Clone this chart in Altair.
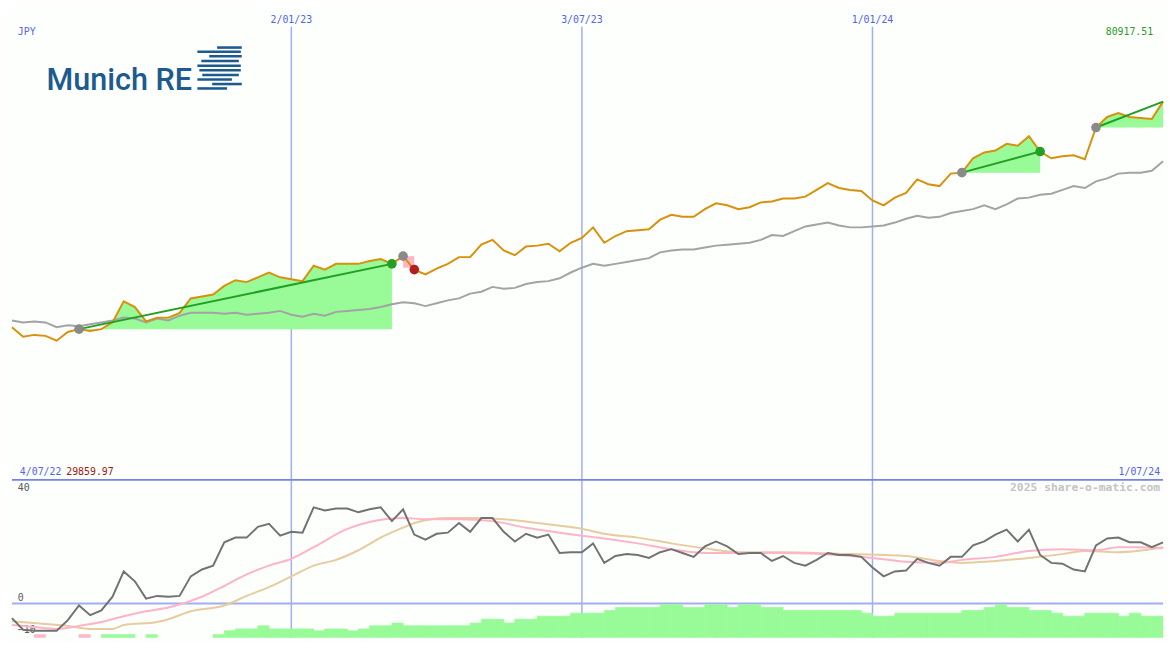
import altair as alt
import pandas as pd

# ---------------- data ----------------
START = "2022-07-11"          # first weekly point
currency = "JPY"
y_min_label = "29859.97"
y_max_label = "80917.51"
left_date_label = "4/07/22"
right_date_label = "1/07/24"
watermark = "2025 share-o-matic.com"
logo_text = "Munich RE"

grid_dates = ["2023-01-02", "2023-07-03", "2024-01-01"]
grid_labels = ["2/01/23", "3/07/23", "1/01/24"]

price = [46530, 45481, 45691, 45586, 45062, 46005, 46320, 46110, 46320, 47054,
         49360, 48731, 47159, 47578, 47578, 48102, 49675, 49884, 50094, 51038,
         51667, 51457, 51981, 52505, 51981, 51772, 51562, 53239, 52820, 53449,
         53449, 53449, 53764, 53973, 53449, 54288, 52820, 52296, 52925, 53449,
         54183, 54183, 55546, 56070, 54917, 54393, 55336, 55441, 55651, 54812,
         55755, 56280, 57433, 55755, 56489, 57014, 57118, 57223, 58272, 58796,
         58586, 58586, 59425, 60054, 59844, 59425, 59635, 60159, 60264, 60578,
         60578, 60788, 61522, 62256, 61731, 61522, 61417, 60368, 59844, 60683,
         61207, 62675, 62151, 61941, 63304, 63409, 64981, 65610, 65820, 66554,
         66344, 67393, 65715, 64981, 65191, 65296, 64877, 68336, 69490, 69909,
         69490, 69385, 69280, 71167]

relative = [47263, 47054, 47159, 47054, 46530, 46739, 46634, 46844, 47054, 47263,
            47578, 47473, 47054, 47473, 47263, 47788, 48102, 48102, 48102, 47997,
            48102, 47892, 47997, 48102, 48312, 47892, 47683, 47997, 47788, 48207,
            48312, 48417, 48522, 48731, 49046, 49255, 49151, 48836, 49151, 49465,
            49675, 50199, 50409, 50933, 50723, 50828, 51247, 51457, 51562, 51876,
            52505, 53030, 53449, 53239, 53449, 53659, 53868, 54078, 54707, 54917,
            55022, 55022, 55231, 55441, 55546, 55651, 55755, 56070, 56594, 56489,
            57014, 57538, 57747, 57957, 57643, 57433, 57433, 57538, 57643, 57957,
            58376, 58691, 58481, 58586, 59006, 59215, 59425, 59844, 59425, 59949,
            60578, 60683, 60997, 61102, 61522, 61941, 61731, 62465, 62780, 63304,
            63409, 63409, 63618, 64667]

osc = [-5.3, -9.5, -9.9, -9.9, -9.9, -6.0, -0.7, -4.2, -2.5, 2.5,
       11.7, 8.1, 1.8, 2.8, 2.5, 2.8, 9.9, 12.4, 13.8, 22.3,
       24.0, 24.0, 27.9, 29.0, 24.7, 26.1, 25.8, 35.0, 33.9, 34.6,
       34.6, 33.2, 34.3, 35.0, 30.0, 34.3, 25.1, 23.3, 25.4, 25.8,
       29.3, 26.1, 31.1, 31.1, 26.1, 22.6, 25.4, 24.0, 25.1, 18.4,
       18.7, 18.7, 21.9, 14.8, 17.3, 18.0, 17.7, 16.6, 18.7, 19.8,
       18.4, 17.0, 20.8, 22.6, 20.8, 18.0, 18.4, 18.4, 15.5, 17.3,
       14.8, 13.8, 15.9, 18.4, 17.7, 17.7, 17.0, 13.1, 9.9, 11.7,
       12.0, 16.3, 14.8, 13.8, 17.0, 17.0, 21.2, 22.6, 25.1, 26.9,
       22.6, 26.9, 17.7, 14.8, 14.5, 12.4, 11.7, 21.2, 23.7, 24.0,
       22.3, 22.3, 20.5, 22.3]

pink_k = [0, 2, 4, 6, 8, 10, 12, 14, 17, 19, 21, 23, 25, 27, 30, 32, 35, 37, 40, 43,
          46, 49, 51, 53, 56, 59, 62, 65, 69, 74, 77, 80, 83, 85, 88, 91, 94, 97, 99, 101, 103]
pink_v = [-7.8, -8.5, -9.2, -8.1, -6.7, -4.6, -2.8, -1.4, 2.5, 6.4, 10.6, 13.8, 16.3, 20.5,
          27.2, 29.7, 31.1, 30.7, 30.7, 30.0, 27.6, 25.8, 24.7, 23.7, 21.9, 19.8, 18.4, 18.4,
          18.4, 17.7, 16.6, 15.2, 14.8, 15.9, 17.0, 19.1, 19.8, 19.4, 20.5, 20.5, 20.1]

tan_k = [0, 3, 5, 7, 9, 10, 13, 14, 16, 19, 21, 23, 25, 27, 29, 31, 33, 35, 36, 39,
         41, 44, 47, 51, 53, 56, 59, 62, 65, 69, 75, 80, 83, 85, 88, 91, 94, 96, 99, 103]
tan_v = [-6.4, -7.4, -8.1, -9.2, -9.2, -7.8, -6.7, -5.7, -2.8, -0.7, 2.8, 6.0, 9.9, 13.8,
         15.9, 19.4, 24.0, 27.6, 29.3, 31.1, 31.1, 30.7, 29.3, 27.2, 25.4, 24.0, 21.9, 20.1,
         18.7, 18.7, 18.0, 17.3, 15.5, 14.8, 15.5, 16.6, 18.0, 19.1, 18.7, 20.5]

bar_vals = [None, None, -11.3, None, None, None, -11.3, None, -11.3, -11.3,
            -11.3, None, -11.3, None, None, None, None, None, -11.3, -9.9,
            -9.2, -9.2, -8.1, -9.2, -9.2, -9.2, -9.2, -9.9, -9.2, -9.2,
            -9.9, -9.2, -8.1, -8.1, -7.1, -8.1, -8.1, -8.1, -8.1, -8.1,
            -8.1, -7.1, -5.7, -5.7, -7.1, -5.7, -5.7, -4.6, -4.6, -4.6,
            -3.5, -3.5, -3.5, -2.5, -1.4, -1.4, -1.4, -1.4, -0.4, -0.4,
            -1.4, -1.4, -0.4, -0.4, -1.4, -0.4, -0.4, -1.4, -1.4, -2.5,
            -2.5, -2.5, -2.5, -2.5, -2.5, -2.5, -3.5, -4.6, -4.6, -3.5,
            -3.5, -3.5, -3.5, -3.5, -3.5, -2.5, -2.5, -1.4, -0.4, -1.4,
            -1.4, -2.5, -2.5, -3.5, -4.6, -4.6, -3.5, -3.5, -3.5, -4.6,
            -3.5, -4.6, -4.6, -4.6]
neg_bar_weeks = [2, 6]

trend_from = [6, 85, 97]
trend_to = [34, 92, 103]
marker_k = [6, 34, 35, 36, 85, 92, 97]
marker_kind = ["start", "hit", "start", "stop", "start", "hit", "start"]
stop_box_k = [35, 36]
stop_box_v = [54288, 53030]

osc_levels = [40, 0]
osc_low_level = [-10]

Y_TOP = [29859.97, 80917.51]
Y_BOT = [-12.4, 45.0]

# logo stripes (decorative, pixel geometry of the emblem)
logo_stripes = [(208, 233, 36.7), (188, 232, 41.0), (200, 233, 45.7), (192, 230, 50.7),
                (188, 232, 55.7), (190, 232, 60.3), (193, 230, 65.3), (188, 223, 70.0),
                (203, 233, 74.7), (188, 218, 79.3)]

# ---------------- layout / style ----------------
W, H1, H2 = 1167, 474, 160
SY = H1 / 487.0
MONO = "DejaVu Sans Mono"
BLUE_TXT = "#5563ec"
GRID = "#a3adf2"
SEP = "#7682ea"
BG = "#fcfffc"
MARKER_COLORS = {"start": "#8a8a8a", "hit": "#23a023", "stop": "#b41e1e"}
BAR_COLORS = {"pos": "#98fb98", "neg": "#ffb6c8"}

dates = pd.date_range(START, periods=len(price), freq="7D")
ds = list(dates.strftime("%Y-%m-%d"))
ds_next = list((dates + pd.Timedelta(days=7)).strftime("%Y-%m-%d"))

xs = alt.Scale(domain=[alt.DateTime(year=2022, month=7, date=11, utc=True),
                       alt.DateTime(year=2024, month=7, date=1, utc=True)])
ys_top = alt.Scale(domain=Y_TOP, zero=False, nice=False)
ys_bot = alt.Scale(domain=Y_BOT, zero=False, nice=False)

X = alt.X("date:T", scale=xs, axis=None)
ONE = pd.DataFrame({"a": [0]})

main = pd.DataFrame({"date": ds, "price": price, "rel": relative, "osc": osc})
grid = pd.DataFrame({"date": grid_dates, "label": grid_labels})

area_rows, trend_rows = [], []
for i, (a, b) in enumerate(zip(trend_from, trend_to)):
    for k in range(a, b + 1):
        area_rows.append({"date": ds[k], "price": price[k], "base": price[a], "seg": i})
    trend_rows.append({"date": ds[a], "price": price[a], "seg": i})
    trend_rows.append({"date": ds[b], "price": price[b], "seg": i})
areas = pd.DataFrame(area_rows)
trends = pd.DataFrame(trend_rows)
markers = pd.DataFrame({"date": [ds[k] for k in marker_k],
                        "price": [price[k] for k in marker_k],
                        "kind": marker_kind})
stopbox = pd.DataFrame({"date": [ds[stop_box_k[0]]], "date2": [ds[stop_box_k[1]]],
                        "top": [stop_box_v[0]], "bot": [stop_box_v[1]]})

bars = pd.DataFrame({"date": ds, "date2": ds_next, "val": bar_vals,
                     "kind": ["neg" if k in neg_bar_weeks else "pos" for k in range(len(ds))]})
bars = bars.dropna()
pink = pd.DataFrame({"date": [ds[k] for k in pink_k], "v": pink_v})
tan = pd.DataFrame({"date": [ds[k] for k in tan_k], "v": tan_v})


def txt(s, x, y, color, align="left", baseline="middle", size=10, weight="normal", font=MONO):
    return alt.Chart(ONE).mark_text(align=align, baseline=baseline, fontSize=size,
                                    fontWeight=weight, font=font, color=color).encode(
        x=alt.value(x), y=alt.value(y), text=alt.value(s))


# ---------------- top panel ----------------
grid_top = alt.Chart(grid).mark_rule(color=GRID, strokeWidth=1.5).encode(
    x=X, y=alt.value(15 * SY), y2=alt.value(H1))
grid_lbl = alt.Chart(grid).mark_text(font=MONO, fontSize=10, color=BLUE_TXT,
                                     baseline="middle").encode(
    x=X, y=alt.value(8 * SY), text="label:N")
area_l = alt.Chart(areas).mark_area(color="#98fb98", opacity=1).encode(
    x=X, y=alt.Y("price:Q", scale=ys_top, axis=None), y2="base:Q", detail="seg:N")
box_l = alt.Chart(stopbox).mark_rect(color="#ffb6c8").encode(
    x=X, x2="date2:T", y=alt.Y("top:Q", scale=ys_top, axis=None), y2="bot:Q")
rel_l = alt.Chart(main).mark_line(color="#a3a3a3", strokeWidth=2).encode(
    x=X, y=alt.Y("rel:Q", scale=ys_top, axis=None))
price_l = alt.Chart(main).mark_line(color="#d9900a", strokeWidth=2).encode(
    x=X, y=alt.Y("price:Q", scale=ys_top, axis=None))
trend_l = alt.Chart(trends).mark_line(color="#23a023", strokeWidth=2).encode(
    x=X, y=alt.Y("price:Q", scale=ys_top, axis=None), detail="seg:N")
mark_layers = []
for kind, col in MARKER_COLORS.items():
    mark_layers.append(
        alt.Chart(markers[markers["kind"] == kind]).mark_circle(size=95, opacity=1, color=col)
        .encode(x=X, y=alt.Y("price:Q", scale=ys_top, axis=None)))

logo_layers = [txt(logo_text, 35, 81 * SY, "#1d5a8e", baseline="alphabetic",
                   size=31, weight=500, font="Roboto")]
for (x1, x2, yy) in logo_stripes:
    logo_layers.append(alt.Chart(ONE).mark_rule(color="#1d5a8e", strokeWidth=2.6).encode(
        x=alt.value(x1), x2=alt.value(x2), y=alt.value(yy * SY)))

top = alt.layer(
    grid_top, area_l, box_l, rel_l, price_l, trend_l, *mark_layers, grid_lbl,
    txt(currency, 6, 21 * SY, BLUE_TXT),
    txt(y_max_label, W - 10, 21 * SY, "#2e9a2e", align="right"),
    txt(left_date_label, 8, 479 * SY, BLUE_TXT),
    txt(y_min_label, 55, 479 * SY, "#a31515"),
    txt(right_date_label, W - 3, 479 * SY, BLUE_TXT, align="right"),
    *logo_layers,
).properties(width=W, height=H1)

# ---------------- bottom panel ----------------
grid_bot = alt.Chart(grid).mark_rule(color=GRID, strokeWidth=1.5).encode(
    x=X, y=alt.value(0), y2=alt.value(H2))
zero_l = alt.Chart(pd.DataFrame({"v": [0]})).mark_rule(color=GRID, strokeWidth=2).encode(
    y=alt.Y("v:Q", scale=ys_bot, axis=None), x=alt.value(0), x2=alt.value(W))
sep_l = alt.Chart(ONE).mark_rule(color=SEP, strokeWidth=2).encode(
    y=alt.value(0), x=alt.value(0), x2=alt.value(W))
bar_layers = []
for kind, col in BAR_COLORS.items():
    bar_layers.append(
        alt.Chart(bars[bars["kind"] == kind]).mark_rect(
            clip=True, color=col, stroke=col, strokeWidth=0.8).encode(
            x=X, x2="date2:T", y=alt.Y("val:Q", scale=ys_bot, axis=None), y2=alt.value(H2)))
tan_l = alt.Chart(tan).mark_line(color="#e6cc9e", strokeWidth=2, interpolate="monotone").encode(
    x=X, y=alt.Y("v:Q", scale=ys_bot, axis=None))
pink_l = alt.Chart(pink).mark_line(color="#ffb3c9", strokeWidth=2, interpolate="monotone").encode(
    x=X, y=alt.Y("v:Q", scale=ys_bot, axis=None))
osc_l = alt.Chart(main).mark_line(color="#727272", strokeWidth=2).encode(
    x=X, y=alt.Y("osc:Q", scale=ys_bot, axis=None))
lvl_l = alt.Chart(pd.DataFrame({"v": osc_levels})).mark_text(
    font=MONO, fontSize=10, color="#5a5a5a", align="left", baseline="middle", dy=-6).encode(
    x=alt.value(6), y=alt.Y("v:Q", scale=ys_bot, axis=None), text="v:Q")
low_l = alt.Chart(pd.DataFrame({"v": osc_low_level})).mark_text(
    font=MONO, fontSize=10, color="#5a5a5a", align="left", baseline="middle", dy=-1).encode(
    x=alt.value(6), y=alt.Y("v:Q", scale=ys_bot, axis=None), text="v:Q")

bottom = alt.layer(
    grid_bot, zero_l, *bar_layers, lvl_l, low_l, tan_l, pink_l, osc_l, sep_l,
    txt(watermark, W - 3, 8.5, "#c4c4c4", align="right", size=11.5, weight="bold"),
).properties(width=W, height=H2)

chart = alt.vconcat(top, bottom, spacing=0, bounds="flush").properties(
    padding=0, background=BG
).configure_view(strokeWidth=0)

chart.save("out.html", embed_options={"renderer": "svg", "actions": False})
